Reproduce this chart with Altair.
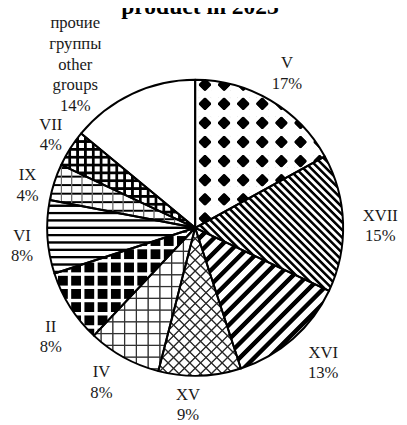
import math
import altair as alt
import pandas as pd

# ---------------- data ----------------
names = ["V", "XVII", "XVI", "XV", "IV", "II", "VI", "IX", "VII",
         "прочие\nгруппы\nother\ngroups"]
shares = [17, 15, 13, 9, 8, 8, 8, 4, 4, 14]
title_text = "product in 2023"

df = pd.DataFrame({"name": names, "share": shares, "order": list(range(len(names)))})

# ---------------- layout / style ----------------
CX, CY, R = 191, 220, 151
LABEL_R = 184
LINE_H = 21
FONT = "Liberation Serif, Times New Roman, serif"
S2 = math.sqrt(2)

BLACK = (0, 0, 0, 1)
CLEAR_K = (0, 0, 0, 0)
WHITE = (255, 255, 255, 1)
CLEAR_W = (255, 255, 255, 0)


def rgba(c):
    return "rgba(%d,%d,%d,%.3f)" % (round(c[0]), round(c[1]), round(c[2]), c[3])


def mix(a, b, f):
    return tuple(a[i] * f + b[i] * (1 - f) for i in range(4))


def sector_bbox(a0, a1, r):
    pts = [(0.0, 0.0), (r * math.sin(a0), -r * math.cos(a0)), (r * math.sin(a1), -r * math.cos(a1))]
    for k in range(5):
        ang = k * math.pi / 2
        if a0 < ang < a1:
            pts.append((r * math.sin(ang), -r * math.cos(ang)))
    xs = [p[0] for p in pts]
    ys = [p[1] for p in pts]
    return min(xs), min(ys), max(xs) - min(xs), max(ys) - min(ys)


def stripe_gradient(bbox, phi_deg, period, band, phase, band_col, gap_col, soft=0.9):
    x0, y0, w, h = bbox
    phi = math.radians(phi_deg)
    c, s = math.cos(phi), math.sin(phi)
    if abs(c) < 1e-9:
        c = 0.0
    if abs(s) < 1e-9:
        s = 0.0
    u0 = 1 if c < 0 else 0
    v0 = 1 if s < 0 else 0
    Ls = w * abs(c) + h * abs(s)
    D = (w * c) ** 2 + (h * s) ** 2
    x2 = u0 + w * c * Ls / D
    y2 = v0 + h * s * Ls / D
    S0 = c * (x0 + u0 * w) + s * (y0 + v0 * h)
    half = band / 2.0

    def f(q):
        d = abs(((q - phase + period / 2.0) % period) - period / 2.0)
        if d <= half - soft / 2:
            return 1.0
        if d >= half + soft / 2:
            return 0.0
        return (half + soft / 2 - d) / soft

    kmin = math.floor((S0 - phase) / period) - 1
    kmax = math.ceil((S0 + Ls - phase) / period) + 1
    bps = [S0, S0 + Ls]
    for k in range(kmin, kmax + 1):
        ctr = phase + k * period
        for q in (ctr - half - soft / 2, ctr - half + soft / 2,
                  ctr + half - soft / 2, ctr + half + soft / 2):
            if S0 < q < S0 + Ls:
                bps.append(q)
    bps.sort()
    stops = [alt.GradientStop(offset=round((q - S0) / Ls, 5),
                              color=rgba(mix(band_col, gap_col, f(q)))) for q in bps]
    return alt.LinearGradient(gradient="linear", stops=stops,
                              x1=u0, y1=v0, x2=round(x2, 5), y2=round(y2, 5))


OX, OY = 10.0, 10.0
DSP, DHALF, DSQ = 19.5, 7.0, 12.5
patterns = {
    "V": ("black", [
        (90, DSP, DSQ, OY, CLEAR_W, WHITE),
        (0, DSP, DSQ, OX, CLEAR_W, WHITE),
        (45, DSP / S2, 2 * DHALF / S2, (OX + OY) / S2, CLEAR_W, WHITE),
        (-45, DSP / S2, 2 * DHALF / S2, (OX - OY) / S2, CLEAR_W, WHITE),
    ]),
    "XVII": ("white", [(-45, 5.5, 2.6, 0, BLACK, CLEAR_K)]),
    "XVI": ("white", [(45, 10.5, 4.5, 0, BLACK, CLEAR_K)]),
    "XV": ("white", [(45, 7.8, 1.4, 0, (40, 40, 40, 1), (40, 40, 40, 0)),
                     (-45, 7.8, 1.4, 0, (40, 40, 40, 1), (40, 40, 40, 0))]),
    "IV": ("white", [(0, 12, 1.4, 0, (50, 50, 50, 1), (50, 50, 50, 0)),
                     (90, 12, 1.4, 0, (50, 50, 50, 1), (50, 50, 50, 0))]),
    "II": ("black", [(0, 13.5, 10, 0, CLEAR_W, WHITE),
                     (90, 13.5, 10, 0, CLEAR_W, WHITE)]),
    "VI": ("white", [(90, 7.5, 2.4, 0, BLACK, CLEAR_K)]),
    "IX": ("white", [(90, 8.7, 2.0, 0, BLACK, CLEAR_K),
                     (0, 10.5, 1.3, 0, (110, 110, 110, 1), (110, 110, 110, 0))]),
    "VII": ("white", [(0, 8, 2.8, 0, BLACK, CLEAR_K),
                      (90, 8, 2.8, 0, BLACK, CLEAR_K)]),
}

label_nudge = {0: (0, 1), 1: (5, 4), 2: (9, 0), 3: (-13, -3), 4: (-7, -3),
               5: (8, 13), 6: (7, 7), 7: (4, 14), 8: (8, 4), 9: (-44, 0)}

theta_scale = alt.Scale(domain=[0, 100], range=[0, 2 * math.pi])

base = (alt.Chart(df)
        .transform_window(cum="sum(share)", frame=[None, 0], sort=[alt.SortField("order")])
        .transform_calculate(start="datum.cum - datum.share",
                             mid="datum.cum - datum.share / 2",
                             label="datum.name + '\\n' + datum.share + '%'"))

arc_enc = dict(theta=alt.Theta("start:Q", stack=None, scale=theta_scale),
               theta2=alt.Theta2("cum:Q"),
               x=alt.value(CX), y=alt.value(CY))

base_colors = [patterns.get(n, ("white", []))[0] for n in names]
layers = [base.mark_arc(radius=R).encode(
    fill=alt.Fill("name:N", scale=alt.Scale(domain=names, range=base_colors), legend=None),
    **arc_enc)]

total = sum(shares)
cum = 0
for i, n in enumerate(names):
    a0 = 2 * math.pi * cum / total
    cum += shares[i]
    a1 = 2 * math.pi * cum / total
    if n not in patterns:
        continue
    bb = sector_bbox(a0, a1, R)
    for (phi, per, band, ph, bc, gc) in patterns[n][1]:
        g = stripe_gradient(bb, phi, per, band, ph, bc, gc)
        layers.append(base.transform_filter(alt.datum.order == i)
                      .mark_arc(radius=R, fill=g).encode(**arc_enc))

layers.append(base.mark_arc(radius=R, fill="white", fillOpacity=0, stroke="black",
                            strokeWidth=2, strokeJoin="round").encode(**arc_enc))

for i in range(len(names)):
    dx, dy = label_nudge[i]
    n_lines = names[i].count("\n") + 2
    dy = dy - (n_lines - 1) * LINE_H / 2
    layers.append(base.transform_filter(alt.datum.order == i)
                  .mark_text(radius=LABEL_R, font=FONT, fontSize=17, lineHeight=LINE_H,
                             lineBreak="\n", align="center", baseline="middle",
                             color="#1a1a1a", dx=dx, dy=dy)
                  .encode(theta=alt.Theta("mid:Q", stack=None, scale=theta_scale),
                          text="label:N", x=alt.value(CX), y=alt.value(CY)))

title_layer = (alt.Chart(pd.DataFrame({"t": [title_text]}))
               .mark_text(font=FONT, fontSize=24, fontWeight="bold", align="center",
                          baseline="alphabetic", color="black")
               .encode(text="t:N", x=alt.value(196), y=alt.value(2)))
layers.append(title_layer)

chart = (alt.layer(*layers)
         .properties(width=399, height=417, autosize="none", padding=0)
         .configure_view(stroke=None))

chart.save("out.html", embed_options={"renderer": "svg", "actions": False})
